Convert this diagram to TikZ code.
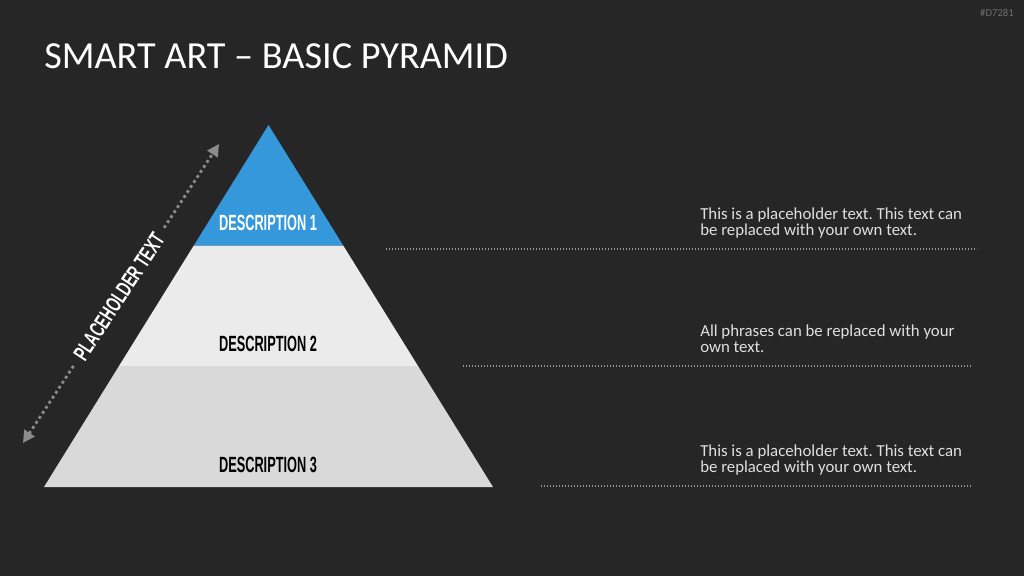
\documentclass[tikz,border=0pt]{standalone}
\usepackage{fontspec}
\setmainfont{Carlito}
\newfontfamily\condfont{Liberation Sans}[FakeStretch=0.58]
\newfontfamily\condwide{Liberation Sans}[FakeStretch=0.64]
\usetikzlibrary{arrows.meta}
\definecolor{bgdark}{HTML}{262626}
\definecolor{topblue}{HTML}{3498DB}
\definecolor{midgray}{HTML}{EBEBEB}
\definecolor{lowgray}{HTML}{D9D9D9}
\definecolor{infogray}{HTML}{E0E0E0}
\definecolor{guidegray}{HTML}{9A9A9A}
\definecolor{spangray}{HTML}{8C8C8C}
\definecolor{tinygray}{HTML}{6E6E6E}
\frenchspacing

\begin{document}
\begin{tikzpicture}[x=0.75pt, y=-0.75pt,
  desc/.style={font=\condfont\bfseries\fontsize{16.5}{16.5}\selectfont, inner sep=0pt},
  info/.style={anchor=north west, align=left, inner sep=0pt, text=infogray, font=\fontsize{12.6}{11.6}\selectfont},
  guide/.style={draw=guidegray, line width=1.1pt, dash pattern=on 1.1pt off 1.15pt},
  span/.style={draw=spangray, line width=2.1pt, dash pattern=on 2.1pt off 2.4pt, {Triangle[length=9pt, width=9pt]}-{Triangle[length=9pt, width=9pt]}}
]
  \fill[bgdark] (0,0) rectangle (1024,576);
  \useasboundingbox (0,0) rectangle (1024,576);

  \node[anchor=north east, inner sep=0pt, text=tinygray, font=\fontsize{8}{8}\selectfont] (code) at (1014,9) {\#D7281};
  \node[anchor=base west, inner sep=0pt, text=white, font=\fontsize{28.7}{28.7}\selectfont] (title) at (44,68) {SMART ART -- BASIC PYRAMID};

  \coordinate (apex) at (268.5,125);
  \coordinate (l1) at (193.8,245.5);
  \coordinate (r1) at (343.2,245.5);
  \coordinate (l2) at (119,366);
  \coordinate (r2) at (418,366);
  \coordinate (l3) at (44,487);
  \coordinate (r3) at (493,487);

  \fill[topblue] (apex) -- (r1) -- (l1) -- cycle;
  \fill[midgray] (l1) -- (r1) -- (r2) -- (l2) -- cycle;
  \fill[lowgray] (l2) -- (r2) -- (r3) -- (l3) -- cycle;

  \node[desc, text=white] (desc1) at (268,223) {DESCRIPTION 1};
  \node[desc, text=black] (desc2) at (268,344) {DESCRIPTION 2};
  \node[desc, text=black] (desc3) at (268,465) {DESCRIPTION 3};

  \coordinate (spanlo) at (23,443);
  \coordinate (spanhi) at (219,144);
  \draw[span] (spanlo) -- node[pos=0.49, sloped, fill=bgdark, inner xsep=5pt, inner ysep=2pt, text=white, font=\condwide\bfseries\fontsize{16.5}{16.5}\selectfont] (side) {PLACEHOLDER TEXT} (spanhi);

  \node[info] (info1) at (700,208) {This is a placeholder text. This text can\\be replaced with your own text.};
  \node[info] (info2) at (700,325) {All phrases can be replaced with your\\own text.};
  \node[info] (info3) at (700,445) {This is a placeholder text. This text can\\be replaced with your own text.};

  \coordinate (g1a) at (386,249);
  \coordinate (g1b) at (977,249);
  \coordinate (g2a) at (463,366);
  \coordinate (g2b) at (972,366);
  \coordinate (g3a) at (541,486);
  \coordinate (g3b) at (972,486);
  \draw[guide] (g1a) -- (g1b);
  \draw[guide] (g2a) -- (g2b);
  \draw[guide] (g3a) -- (g3b);
\end{tikzpicture}
\end{document}
